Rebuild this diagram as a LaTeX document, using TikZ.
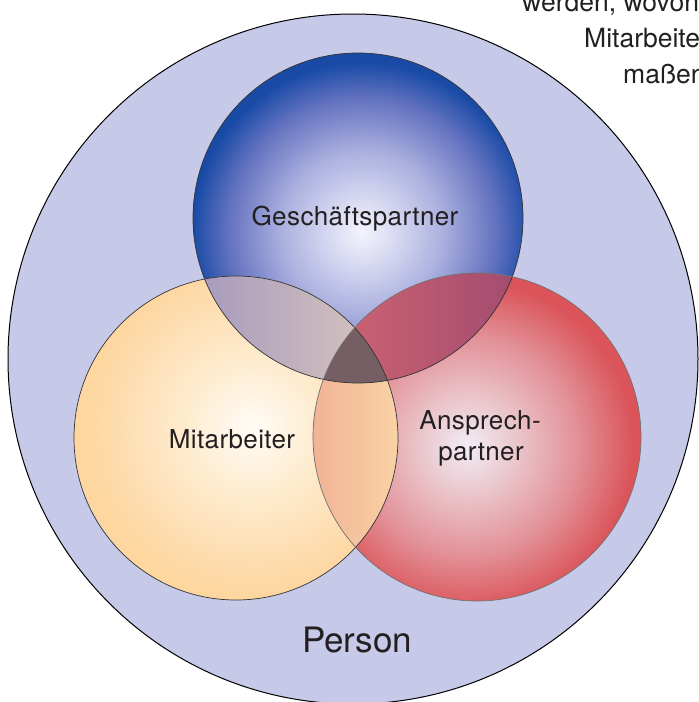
\documentclass[tikz,border=0pt]{standalone}
\usepackage{fontspec}
\setmainfont{TeX Gyre Heros}
\newfontfamily\labelfont[LetterSpace=1.5]{TeX Gyre Heros}
\usetikzlibrary{positioning}

\definecolor{txt}{RGB}{35,31,32}
\definecolor{personfill}{RGB}{198,202,232}
% Geschaeftspartner
\definecolor{gpA}{RGB}{244,244,252}
\definecolor{gpB}{RGB}{212,214,240}
\definecolor{gpC}{RGB}{170,175,222}
\definecolor{gpD}{RGB}{100,115,192}
\definecolor{gpE}{RGB}{24,74,166}
% Mitarbeiter
\definecolor{maA}{RGB}{255,252,246}
\definecolor{maB}{RGB}{254,236,208}
\definecolor{maC}{RGB}{253,214,160}
% Ansprechpartner
\definecolor{apA}{RGB}{242,236,246}
\definecolor{apB}{RGB}{234,196,202}
\definecolor{apC}{RGB}{226,146,152}
\definecolor{apD}{RGB}{218,84,90}
% overlaps
\definecolor{gpmaL}{RGB}{165,152,190}
\definecolor{gpmaR}{RGB}{220,202,188}
\definecolor{gpapL}{RGB}{206,100,114}
\definecolor{gpapR}{RGB}{160,74,112}
\definecolor{maapL}{RGB}{240,178,150}
\definecolor{maapR}{RGB}{250,212,165}
\definecolor{allthree}{RGB}{118,95,100}

\pgfdeclareradialshading{gpsphere}{\pgfpoint{0bp}{0bp}}{color(0bp)=(gpA); color(5bp)=(gpB); color(11bp)=(gpC); color(18bp)=(gpD); color(23bp)=(gpE); color(50bp)=(gpE)}
\pgfdeclareradialshading{masphere}{\pgfpoint{0bp}{0bp}}{color(0bp)=(maA); color(9bp)=(maB); color(23bp)=(maC); color(50bp)=(maC)}
\pgfdeclareradialshading{apsphere}{\pgfpoint{0bp}{0bp}}{color(0bp)=(apA); color(7bp)=(apB); color(15bp)=(apC); color(23bp)=(apD); color(50bp)=(apD)}

\begin{document}
\begin{tikzpicture}[x=1pt,y=-1pt,
    setlabel/.style={font=\labelfont\fontsize{26}{30}\selectfont, text=txt, inner sep=0pt, anchor=base},
    bodyline/.style={font=\fontsize{26.5}{31}\selectfont, text=txt, inner sep=0pt, anchor=base west},
    rim/.style={line width=0.7pt, draw=black!80}]
    \useasboundingbox (0,0) rectangle (699,702);
    \coordinate (ps) at (353,359);
    \coordinate (gp) at (358,218);
    \coordinate (ma) at (236,438);
    \coordinate (ap) at (477,437);
    \begin{scope}
        \clip (0,0) rectangle (699,702);

        % Person
        \fill[personfill] (ps) circle (345);
        \draw[line width=1pt] (ps) circle (345);

        % three spheres
        \begin{scope}
            \clip (gp) circle (165);
            \shade[shading=gpsphere] (362,232) circle (185);
        \end{scope}
        \begin{scope}
            \clip (ma) circle (162);
            \shade[shading=masphere] (252,428) circle (180);
        \end{scope}
        \begin{scope}
            \clip (ap) circle (164);
            \shade[shading=apsphere] (468,446) circle (180);
        \end{scope}

        % overlaps
        \begin{scope}
            \clip (gp) circle (165);
            \clip (ma) circle (162);
            \shade[left color=gpmaL, right color=gpmaR] (190,260) rectangle (400,400);
        \end{scope}
        \begin{scope}
            \clip (gp) circle (165);
            \clip (ap) circle (164);
            \shade[left color=gpapL, right color=gpapR] (330,260) rectangle (530,400);
        \end{scope}
        \begin{scope}
            \clip (ma) circle (162);
            \clip (ap) circle (164);
            \shade[left color=maapL, right color=maapR] (310,280) rectangle (402,600);
        \end{scope}
        \begin{scope}
            \clip (gp) circle (165);
            \clip (ma) circle (162);
            \clip (ap) circle (164);
            \fill[allthree] (300,300) rectangle (420,400);
        \end{scope}

        \draw[rim] (gp) circle (165);
        \draw[rim] (ma) circle (162);
        \draw[rim, draw=black!55] (ap) circle (164);

        % labels
        \node[setlabel] (gesch) at (355,225) {Geschäftspartner};
        \node[setlabel] (mitarb) at (232,448) {Mitarbeiter};
        \node[setlabel] (ansp) at (480,429) {Ansprech-};
        \node[setlabel] (partner) at (481,460) {partner};
        \node[setlabel, font=\fontsize{35}{40}\selectfont] (person) at (357,652) {Person};

        % running text of the page
        \node[bodyline] (werden) at (522,11) {werden, wovon};
        \node[bodyline] (mitarbeite) at (584,47) {Mitarbeiter};
        \node[bodyline] (massen) at (623,83) {maßen};
    \end{scope}
\end{tikzpicture}
\end{document}
